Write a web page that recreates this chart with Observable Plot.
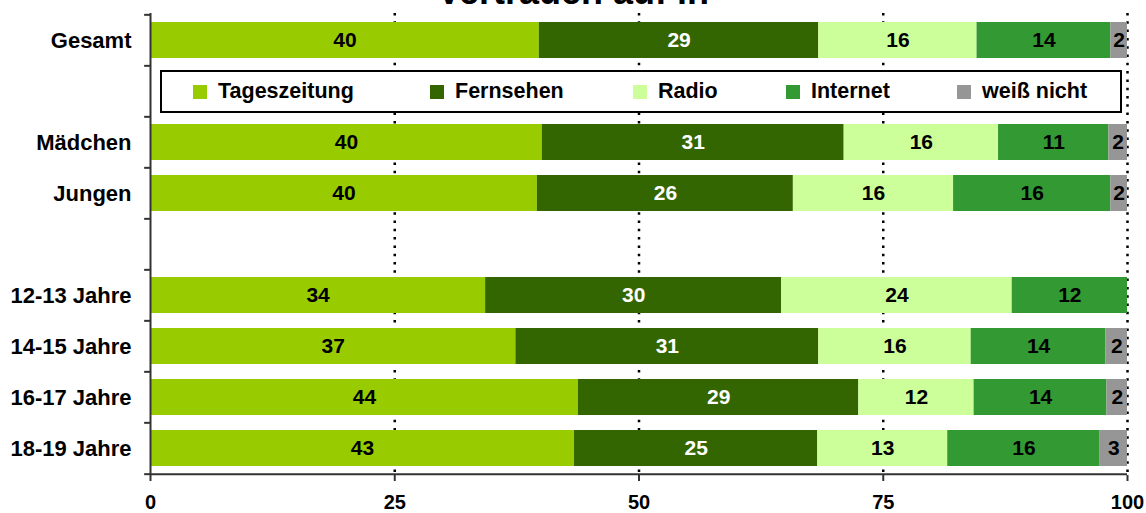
<!DOCTYPE html>
<html>
<head>
<meta charset="utf-8">
<script src="https://cdn.jsdelivr.net/npm/d3@7"></script>
<script src="https://cdn.jsdelivr.net/npm/@observablehq/plot@0.6"></script>
<style>
  html, body { margin: 0; padding: 0; background: #fff; }
  #wrap { position: relative; width: 1146px; height: 513px; overflow: hidden; font-family: "Liberation Sans", Arial, sans-serif; }
  #title { position: absolute; left: 0; top: -26px; width: 1146px; text-align: center; font-weight: bold; font-size: 36px; line-height: 36px; color: #000; }
  #legend { position: absolute; left: 160px; top: 70px; width: 958px; height: 39px; border: 2px solid #000; background: #fff; box-sizing: content-box; }
  .li { position: absolute; top: 0; height: 39px; display: flex; align-items: center; font-weight: bold; font-size: 21.5px; color: #000; }
  .sw { width: 14px; height: 14px; margin-right: 11px; }
  svg { position: absolute; left: 0; top: 0; }
</style>
</head>
<body>
<div id="wrap">
  <div id="legend"></div>
  <div id="title"></div>
</div>
<script>
const title = "Vertrauen auf in";
const rows = ["Gesamt", "_legend", "Mädchen", "Jungen", "_gap", "12-13 Jahre", "14-15 Jahre", "16-17 Jahre", "18-19 Jahre"];
const groups = ["Gesamt", "Mädchen", "Jungen", "12-13 Jahre", "14-15 Jahre", "16-17 Jahre", "18-19 Jahre"];
const series = ["Tageszeitung", "Fernsehen", "Radio", "Internet", "weiß nicht"];
const tageszeitung = [39.8, 40.1, 39.6, 34.3, 37.4, 43.8, 43.4];
const fernsehen    = [28.6, 30.9, 26.2, 30.3, 31.0, 28.7, 24.9];
const radio        = [16.2, 15.8, 16.4, 23.6, 15.6, 11.8, 13.3];
const internet     = [13.7, 11.3, 16.1, 11.8, 13.8, 13.6, 15.6];
const weissNicht   = [1.7, 1.9, 1.7, 0, 2.2, 2.1, 2.8];
const colors = ["#99CC00", "#336600", "#CCFF99", "#339933", "#969696"];
const xTicks = [0, 25, 50, 75, 100];
const legendLeft = [193, 430, 633, 786, 957];

const seriesValues = [tageszeitung, fernsehen, radio, internet, weissNicht];
const data = [];
groups.forEach((g, i) => {
  series.forEach((s, j) => {
    data.push({group: g, series: s, value: seriesValues[j][i]});
  });
});

const W = 1146, H = 513;
const mTop = 13, mBottom = 38, mLeft = 150, mRight = 19;
const step = (H - mTop - mBottom) / rows.length;
const font = "Liberation Sans, Arial, sans-serif";

const label = d => d.value > 0 ? String(Math.round(d.value)) : "";

const chart = Plot.plot({
  width: W,
  height: H,
  marginTop: mTop,
  marginBottom: mBottom,
  marginLeft: mLeft,
  marginRight: mRight,
  style: {fontFamily: font, background: "transparent", overflow: "visible"},
  x: {domain: [0, 100]},
  y: {domain: rows, paddingInner: 0.3, paddingOuter: 0.15},
  color: {domain: series, range: colors},
  marks: [
    Plot.ruleX(xTicks.slice(1), {stroke: "#000", strokeWidth: 2.5, strokeDasharray: "2.5,5.8"}),
    Plot.barX(data, Plot.stackX({x: "value", y: "group", fill: "series", z: "series", order: series})),
    Plot.text(data, Plot.stackX({x: "value", y: "group", z: "series", order: series,
      text: d => d.series === "Fernsehen" ? "" : label(d),
      fill: "#000", fontSize: 21, fontWeight: "bold"})),
    Plot.text(data, Plot.stackX({x: "value", y: "group", z: "series", order: series,
      text: d => d.series === "Fernsehen" ? label(d) : "",
      fill: "#fff", fontSize: 21, fontWeight: "bold"})),
    Plot.ruleX([0], {stroke: "#333", strokeWidth: 2}),
    Plot.ruleY(rows, {y: d => d, x1: -0.6, x2: 0, dy: -step / 2, stroke: "#333", strokeWidth: 2}),
    Plot.ruleY(rows.slice(-1), {y: d => d, dy: step / 2, stroke: "#333", strokeWidth: 2}),
    Plot.ruleY(rows.slice(-1), {y: d => d, x1: -0.6, x2: 0, dy: step / 2, stroke: "#333", strokeWidth: 2}),
    Plot.axisX({ticks: xTicks, tickSize: 6, tickPadding: 13, fontSize: 20, fontWeight: "bold", stroke: "#333", strokeWidth: 2, color: "#000", label: null}),
    Plot.axisY({tickSize: 0, tickPadding: 19, fontSize: 22, fontWeight: "bold", color: "#000", label: null,
      tickFormat: d => d.startsWith("_") ? "" : d})
  ]
});

document.getElementById("wrap").insertBefore(chart, document.getElementById("legend"));
document.getElementById("title").textContent = title;

const legend = document.getElementById("legend");
series.forEach((s, j) => {
  const item = document.createElement("div");
  item.className = "li";
  item.style.left = (legendLeft[j] - 162) + "px";
  const sw = document.createElement("span");
  sw.className = "sw";
  sw.style.background = colors[j];
  const t = document.createElement("span");
  t.textContent = s;
  item.appendChild(sw);
  item.appendChild(t);
  legend.appendChild(item);
});
</script>
</body>
</html>
